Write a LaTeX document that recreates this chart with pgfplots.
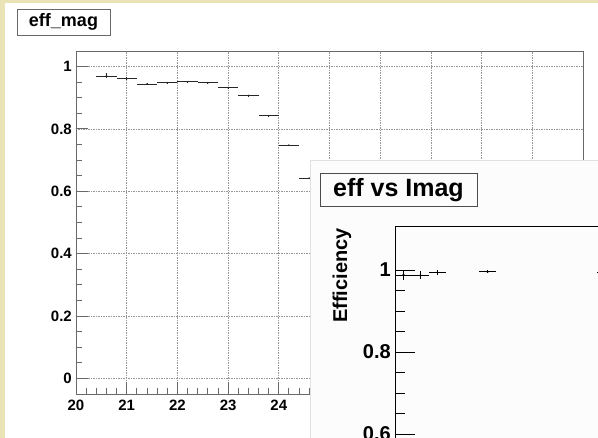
\documentclass[border=0pt]{standalone}
\usepackage{fontspec}
\setmainfont{Liberation Sans}
\usepackage{pgfplots}
\pgfplotsset{compat=1.18}
\definecolor{bgbeige}{RGB}{234,227,182}
\definecolor{framegray}{RGB}{105,105,105}
\definecolor{gridgray}{RGB}{150,150,150}
\definecolor{insetbg}{RGB}{252,252,252}

% efficiency vs magnitude, bins of 0.4
\pgfplotstableread{
x     y      ey
20.6  0.970  0.008
21.0  0.961  0.004
21.4  0.944  0.003
21.8  0.948  0.003
22.2  0.951  0.003
22.6  0.948  0.002
23.0  0.932  0.002
23.4  0.907  0.002
23.8  0.842  0.002
24.2  0.748  0.002
24.6  0.642  0.002
}\effmag

% inset: eff vs Imag
\pgfplotstableread{
x     y      ex   ey
0.5   0.988  0.5  0.012
1.5   0.987  0.5  0.010
2.5   0.994  0.5  0.005
5.45  0.996  0.5  0.003
12.4  0.995  0.5  0.003
}\effimag

\begin{document}
\begin{tikzpicture}
\useasboundingbox (0pt,0pt) rectangle (598pt,438pt);
\clip (0pt,0pt) rectangle (598pt,438pt);
\fill[bgbeige] (0pt,0pt) rectangle (598pt,438pt);
\fill[white] (5pt,0pt) rectangle (598pt,435pt);

\begin{axis}[
    at={(76pt,44pt)}, anchor=south west,
    width=507pt, height=343pt, scale only axis,
    xmin=20, xmax=30, ymin=-0.05, ymax=1.05,
    xtick={20,21,22,23,24,25,26,27,28,29,30}, minor x tick num=4,
    ytick={0,0.2,0.4,0.6,0.8,1}, minor y tick num=3,
    tick pos=left, tick align=inside,
    major tick length=12pt, minor tick length=6pt,
    axis line style={framegray, line width=0.9pt},
    tick style={framegray, line width=0.9pt},
    grid=major,
    major grid style={gridgray, line width=0.8pt, dash pattern=on 1.5pt off 1pt},
    /pgf/number format/assume math mode=true,
    ticklabel style={font=\fontsize{15}{15}\selectfont\bfseries},
    yticklabel style={anchor=east, inner sep=0pt, xshift=-4pt},
    xticklabel style={anchor=north, inner sep=0pt, yshift=-6pt},
]
\addplot[black!85, line width=0.8pt, only marks, mark=*, mark size=0.4pt,
    error bars/.cd, x dir=both, x fixed=0.2, y dir=both, y explicit,
    error mark=none, error bar style={black!85, line width=0.8pt}]
    table[x=x, y=y, y error=ey] {\effmag};
\end{axis}

\node[draw=framegray, line width=0.9pt, fill=white, minimum width=93pt,
      minimum height=26pt, inner sep=0pt,
      font=\fontsize{18}{18}\selectfont\bfseries] at (63.5pt,416pt) {eff\_mag};

% inset pad
\fill[insetbg, draw=white!88!black, line width=0.5pt] (310pt,-2pt) rectangle (600pt,278pt);

\begin{axis}[
    at={(395pt,211pt)}, anchor=north west,
    width=340pt, height=289pt, scale only axis,
    xmin=0, xmax=20, ymin=0.4, ymax=1.105,
    xtick=\empty,
    ytick={0.4,0.6,0.8,1}, minor y tick num=3,
    tick pos=left, tick align=inside,
    major tick length=20pt, minor tick length=10pt,
    axis line style={black, line width=1pt},
    tick style={black, line width=1pt},
    /pgf/number format/assume math mode=true,
    ticklabel style={font=\fontsize{20}{20}\selectfont\bfseries},
    yticklabel style={anchor=east, inner sep=0pt, xshift=-4pt},
]
\addplot[black, line width=0.9pt, only marks, mark=*, mark size=0.6pt,
    error bars/.cd, x dir=both, x explicit, y dir=both, y explicit,
    error mark=none, error bar style={black, line width=0.9pt}]
    table[x=x, y=y, x error=ex, y error=ey] {\effimag};
\end{axis}

\node[rotate=90, anchor=east, inner sep=0pt,
      font=\fontsize{20}{20}\selectfont\bfseries] at (342pt,210pt) {Efficiency};

\node[draw=black!70, line width=1pt, fill=insetbg, minimum width=157pt,
      minimum height=33pt, inner sep=0pt,
      font=\fontsize{25}{25}\selectfont\bfseries] at (398.5pt,247.5pt) {eff vs Imag};
\end{tikzpicture}
\end{document}
